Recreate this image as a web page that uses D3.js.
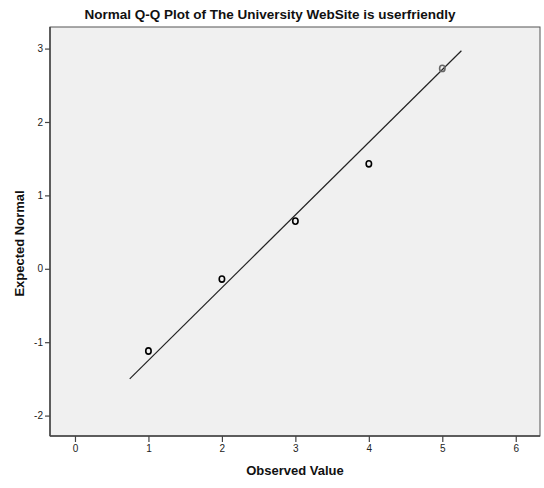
<!DOCTYPE html>
<html>
<head>
<meta charset="utf-8">
<script src="https://cdn.jsdelivr.net/npm/d3@7"></script>
<style>
  html, body { margin: 0; padding: 0; background: #ffffff; }
  svg { display: block; font-family: "Liberation Sans", Arial, sans-serif; }
</style>
</head>
<body>
<svg id="chart" width="544" height="488"></svg>
<script>
// Observed values and their expected normal quantiles
const observed = [1, 2, 3, 4, 5];
const expected = [-1.12, -0.14, 0.65, 1.43, 2.73];

// Reference line endpoints (observed -> expected normal)
const lineX = [0.745, 5.26];
const lineY = [-1.50, 2.97];

const xTicks = [0, 1, 2, 3, 4, 5, 6];
const yTicks = [-2, -1, 0, 1, 2, 3];

const titleText = "Normal Q-Q Plot of The University WebSite is userfriendly";
const xLabel = "Observed Value";
const yLabel = "Expected Normal";

const svg = d3.select("#chart");
const plot = { left: 50, right: 540, top: 27, bottom: 436 };

const x = d3.scaleLinear().domain([-0.34, 6.33]).range([plot.left, plot.right]);
const y = d3.scaleLinear().domain([-2.278, 3.294]).range([plot.bottom, plot.top]);

// Plot background and frame
svg.append("rect")
  .attr("x", plot.left).attr("y", plot.top)
  .attr("width", plot.right - plot.left).attr("height", plot.bottom - plot.top)
  .attr("fill", "#f0f0f0").attr("stroke", "#555").attr("stroke-width", 1);

// Axes (plain hyphen for negative labels)
const fmt = d => String(d);
const xAxis = d3.axisBottom(x).tickValues(xTicks).tickSize(6).tickPadding(3).tickFormat(fmt);
const yAxis = d3.axisLeft(y).tickValues(yTicks).tickSize(5).tickPadding(2).tickFormat(fmt);

const gx = svg.append("g").attr("transform", `translate(0,${plot.bottom})`).call(xAxis);
const gy = svg.append("g").attr("transform", `translate(${plot.left},0)`).call(yAxis);

[gx, gy].forEach(g => {
  g.select(".domain").attr("stroke", "#444").attr("stroke-width", 1.5);
  g.selectAll(".tick line").attr("stroke", "#444").attr("stroke-width", 1.2);
  g.selectAll(".tick text").attr("fill", "#222").style("font-size", "10px")
    .style("font-family", "'Liberation Sans', Arial, sans-serif");
});
gx.select(".domain").attr("d", `M${plot.left},0H${plot.right}`);
gy.select(".domain").attr("d", `M0,${plot.top}V${plot.bottom}`);

// Reference line
svg.append("line")
  .attr("x1", x(lineX[0])).attr("y1", y(lineY[0]))
  .attr("x2", x(lineX[1])).attr("y2", y(lineY[1]))
  .attr("stroke", "#222").attr("stroke-width", 1.2);

// Points
svg.append("g").selectAll("ellipse")
  .data(observed.map((d, i) => ({ o: d, e: expected[i] })))
  .join("ellipse")
  .attr("cx", d => x(d.o)).attr("cy", d => y(d.e))
  .attr("rx", 2.7).attr("ry", 3.1)
  .attr("fill", "none")
  .attr("stroke", (d, i) => i === observed.length - 1 ? "#666" : "#000")
  .attr("stroke-width", 1.6);

// Title
svg.append("text")
  .attr("x", 270).attr("y", 18.5)
  .attr("text-anchor", "middle")
  .style("font-size", "13.5px").style("font-weight", "bold")
  .attr("fill", "#111")
  .text(titleText);

// Axis titles
svg.append("text")
  .attr("x", (plot.left + plot.right) / 2).attr("y", 475)
  .attr("text-anchor", "middle")
  .style("font-size", "13px").style("font-weight", "bold")
  .attr("fill", "#111")
  .text(xLabel);

svg.append("text")
  .attr("transform", `translate(24,${(plot.top + plot.bottom) / 2 + 12}) rotate(-90)`)
  .attr("text-anchor", "middle")
  .style("font-size", "13px").style("font-weight", "bold")
  .attr("fill", "#111")
  .text(yLabel);
</script>
</body>
</html>
